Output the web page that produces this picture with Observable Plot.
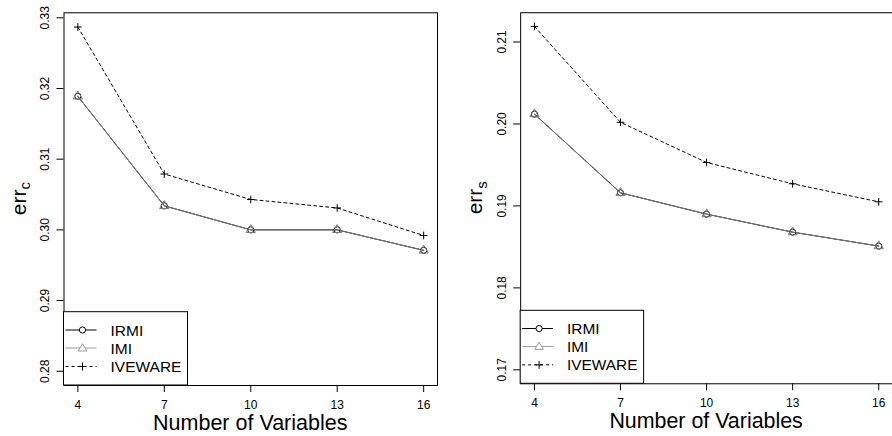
<!DOCTYPE html>
<html><head><meta charset="utf-8">
<script src="https://cdn.jsdelivr.net/npm/d3@7"></script>
<script src="https://cdn.jsdelivr.net/npm/@observablehq/plot@0.6"></script>
<style>
html,body{margin:0;padding:0;background:#fff;}
#wrap{position:relative;width:892px;height:436px;overflow:hidden;background:#fff;}
.panel{position:absolute;top:0;}
</style></head><body><div id="wrap"></div>
<script>
const nVariables = [4, 7, 10, 13, 16];
const methods = ["IRMI", "IMI", "IVEWARE"];

const errC_IRMI    = [0.3189, 0.3034, 0.3000, 0.3000, 0.2971];
const errC_IMI     = [0.3189, 0.3034, 0.3000, 0.3000, 0.2971];
const errC_IVEWARE = [0.3287, 0.3079, 0.3043, 0.3031, 0.2992];

const errS_IRMI    = [0.2012, 0.1916, 0.1890, 0.1868, 0.1851];
const errS_IMI     = [0.2012, 0.1916, 0.1890, 0.1868, 0.1851];
const errS_IVEWARE = [0.2119, 0.2002, 0.1953, 0.1927, 0.1905];

const errCTicks = [0.28, 0.29, 0.30, 0.31, 0.32, 0.33];
const errSTicks = [0.17, 0.18, 0.19, 0.20, 0.21];
const xLabel = "Number of Variables";

const FONT = "'Liberation Sans', Arial, Helvetica, sans-serif";

const styles = {
  IRMI:    {stroke: "#000000", dash: null,  symbol: "circle",   r: 3.1, lstroke: "#000000"},
  IMI:     {stroke: "#7a7a7a", dash: null,  symbol: "triangle", r: 3.4, lstroke: "#9a9a9a"},
  IVEWARE: {stroke: "#000000", dash: "3,3", symbol: "plus",     r: 2.6, lstroke: "#000000"}
};

function rows(ys, method) {
  return nVariables.map((x, i) => ({x, y: ys[i], method}));
}

function panel({left, width, marginLeft, marginRight, yDomain, yTicks, series, sub}) {
  const marks = [];
  for (const m of methods) {
    marks.push(Plot.line(series[m], {x: "x", y: "y", stroke: styles[m].stroke, strokeWidth: 1,
      strokeDasharray: styles[m].dash}));
  }
  for (const m of methods) {
    marks.push(Plot.dot(series[m], {x: "x", y: "y", symbol: styles[m].symbol, r: styles[m].r,
      stroke: styles[m].stroke, fill: "none", strokeWidth: 1}));
  }
  marks.push(Plot.frame({stroke: "#000", strokeWidth: 1}));
  marks.push(Plot.axisX({ticks: nVariables, tickSize: 7, tickPadding: 8, fontSize: 12, label: null, stroke: "#000"}));
  marks.push(Plot.axisY({ticks: yTicks, tickSize: 7, tickFormat: () => "", label: null, stroke: "#000"}));
  marks.push(Plot.text(yTicks, {y: d => d, frameAnchor: "left", dx: -19, rotate: -90,
    text: d => d.toFixed(2), fontSize: 12, textAnchor: "middle", lineAnchor: "middle", fill: "#000"}));

  const svg = Plot.plot({
    width, height: 436,
    marginTop: 12.3, marginBottom: 51, marginLeft, marginRight,
    x: {domain: [3.52, 16.48]},
    y: {domain: yDomain},
    style: {fontFamily: FONT, color: "#000", background: "#fff", overflow: "visible"},
    marks
  });

  const s = d3.select(svg);
  const plotRight = width - marginRight;
  // x label
  s.append("text")
    .attr("x", (marginLeft + plotRight) / 2).attr("y", 430)
    .attr("text-anchor", "middle").attr("font-size", 21.5).attr("font-family", FONT).attr("fill", "#000")
    .text(xLabel);
  // y label with subscript
  const yl = s.append("text")
    .attr("transform", `translate(${marginLeft - 38},198.7) rotate(-90)`)
    .attr("text-anchor", "middle").attr("font-size", 21).attr("font-family", FONT).attr("fill", "#000");
  yl.append("tspan").text("err");
  yl.append("tspan").attr("font-size", 15).attr("dy", "0.3em").text(sub);

  // legend
  const lx = marginLeft, ly = 311.7, lw = 124, lh = 385 - 311.7;
  const g = s.append("g").attr("font-family", FONT).attr("text-anchor", "start");
  g.append("rect").attr("x", lx).attr("y", ly).attr("width", lw).attr("height", lh)
    .attr("fill", "#fff").attr("stroke", "#000").attr("stroke-width", 1);
  const entryY = [330, 348, 366.5];
  methods.forEach((m, i) => {
    const y = entryY[i];
    g.append("line").attr("x1", lx + 2).attr("x2", lx + 33).attr("y1", y).attr("y2", y)
      .attr("stroke", styles[m].lstroke).attr("stroke-width", 1)
      .attr("stroke-dasharray", styles[m].dash);
    const cx = lx + 19;
    if (styles[m].symbol === "circle") {
      g.append("circle").attr("cx", cx).attr("cy", y).attr("r", 3.1).attr("fill", "#fff").attr("stroke", "#000");
    } else if (styles[m].symbol === "triangle") {
      g.append("path").attr("d", `M${cx},${y - 4.3}L${cx + 4.3},${y + 3}L${cx - 4.3},${y + 3}Z`)
        .attr("fill", "#fff").attr("stroke", "#9a9a9a");
    } else {
      g.append("path").attr("d", `M${cx - 4},${y}H${cx + 4}M${cx},${y - 4}V${y + 4}`)
        .attr("stroke", "#000");
    }
    g.append("text").attr("x", lx + 47).attr("y", y).attr("dy", "0.36em").attr("text-anchor", "start")
      .attr("font-size", 15.5).attr("fill", "#000").text(m);
  });

  const div = document.createElement("div");
  div.className = "panel";
  div.style.left = left + "px";
  div.appendChild(svg);
  document.getElementById("wrap").appendChild(div);
}

panel({
  left: 0, width: 446, marginLeft: 63.5, marginRight: 9,
  yDomain: [0.27798, 0.33071], yTicks: errCTicks, sub: "c",
  series: {IRMI: rows(errC_IRMI, "IRMI"), IMI: rows(errC_IMI, "IMI"), IVEWARE: rows(errC_IVEWARE, "IVEWARE")}
});
panel({
  left: 446, width: 448, marginLeft: 74.5, marginRight: 0,
  yDomain: [0.1683, 0.21357], yTicks: errSTicks, sub: "s",
  series: {IRMI: rows(errS_IRMI, "IRMI"), IMI: rows(errS_IMI, "IMI"), IVEWARE: rows(errS_IVEWARE, "IVEWARE")}
});
</script></body></html>
